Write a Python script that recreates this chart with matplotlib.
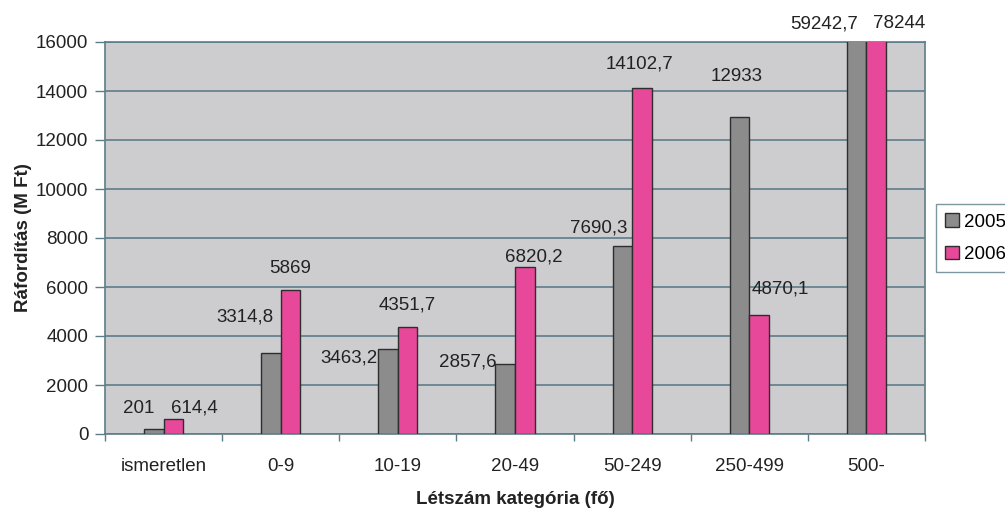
import matplotlib
matplotlib.use("Agg")
import matplotlib.pyplot as plt
import numpy as np
from matplotlib.patches import Patch

# Data
categories = ["ismeretlen", "0-9", "10-19", "20-49", "50-249", "250-499", "500-"]
values_2005 = [201, 3314.8, 3463.2, 2857.6, 7690.3, 12933, 59242.7]
values_2006 = [614.4, 5869, 4351.7, 6820.2, 14102.7, 4870.1, 78244]
series_names = ["2005", "2006"]
y_ticks = [0, 2000, 4000, 6000, 8000, 10000, 12000, 14000, 16000]

# Label placement (pixel offsets from the top of each bar)
offsets_2005 = [(-15, 21), (-26, 36), (-39, -9), (-37, 2), (-24, 18), (-3, 41), (-33, 18)]
offsets_2006 = [(21, 11), (0, 22), (0, 22), (9, 10), (-2, 24), (21, 26), (23, 18)]

plt.rcParams["font.family"] = ["Liberation Sans", "DejaVu Sans"]

bg = "#cdcdd0"
grid_c = "#5d7d88"
gray = "#8c8c8c"
pink = "#e8489a"
edge = "#2e2e2e"
txt = "#222222"
fs = 13.5

fig = plt.figure(figsize=(10.05, 5.09), dpi=100)
ax = fig.add_axes([105 / 1005, 75 / 509, 820 / 1005, 392 / 509])
ax.set_facecolor(bg)

ymax = y_ticks[-1]
x = np.arange(len(categories))
w = 0.1665

ax.bar(x - w / 2, values_2005, w, color=gray, edgecolor=edge, linewidth=1.0, zorder=3)
ax.bar(x + w / 2, values_2006, w, color=pink, edgecolor=edge, linewidth=1.0, zorder=3)

def fmt(v):
    s = ("%.1f" % v).rstrip("0").rstrip(".")
    return s.replace(".", ",")

for xs, vals, offs in [(x - w / 2, values_2005, offsets_2005), (x + w / 2, values_2006, offsets_2006)]:
    for xi, v, (dx, dy) in zip(xs, vals, offs):
        ax.annotate(fmt(v), xy=(xi, min(v, ymax)), xytext=(dx, dy),
                    textcoords="offset pixels", ha="center", va="center",
                    fontsize=fs, color=txt, annotation_clip=False, zorder=5)

ax.set_xlim(-0.5, len(categories) - 0.5)
ax.set_ylim(0, ymax)
ax.set_yticks(y_ticks)
ax.set_yticklabels([str(t) for t in y_ticks])
ax.yaxis.grid(True, color=grid_c, linewidth=1.2, zorder=1)
ax.set_axisbelow(True)

# Category ticks sit on the boundaries between groups
ax.set_xticks(np.arange(len(categories) + 1) - 0.5)
ax.set_xticklabels([])
ax.set_xticks(x, minor=True)
ax.set_xticklabels(categories, minor=True)
ax.tick_params(axis="x", which="major", length=5, width=1.0, color=grid_c, direction="out")
ax.tick_params(axis="x", which="minor", length=0, pad=17, labelsize=fs, labelcolor=txt)
ax.tick_params(axis="y", length=7, width=1.0, color=grid_c, pad=5, labelsize=fs, labelcolor=txt)

for s in ax.spines.values():
    s.set_color(grid_c)
    s.set_linewidth(1.2)

ax.set_ylabel("Ráfordítás (M Ft)", fontsize=fs, fontweight="bold", color=txt, labelpad=3)
ax.set_xlabel("Létszám kategória (fő)", fontsize=fs, fontweight="bold", color=txt, labelpad=12)

handles = [Patch(facecolor=gray, edgecolor=edge, linewidth=1.0),
           Patch(facecolor=pink, edgecolor=edge, linewidth=1.0)]
fig.legend(handles, series_names, loc="center left", bbox_to_anchor=(936 / 1005, 1 - 238 / 509),
           fontsize=fs, frameon=True, fancybox=False, edgecolor=grid_c,
           handlelength=0.7, handleheight=0.7, handletextpad=0.3, borderpad=0.5,
           labelspacing=0.8, borderaxespad=0.0)

fig.savefig("out.png", dpi=100, facecolor="white")
